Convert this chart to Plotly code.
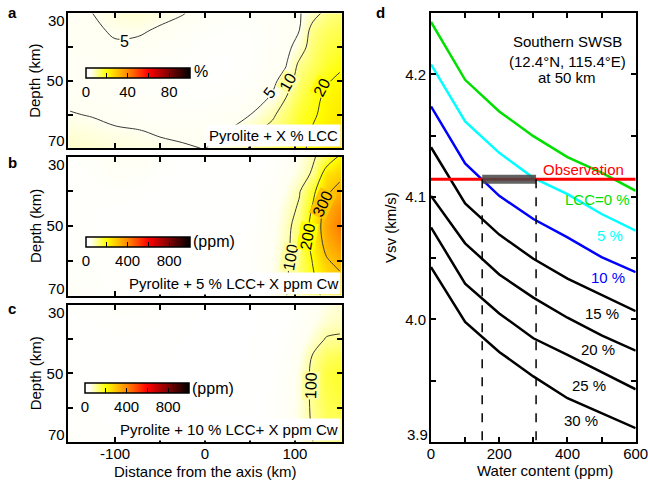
import plotly.graph_objects as go

# ---------------- data ----------------
dist_km = [-150, -125, -100, -75, -50, -25, 0, 25, 50, 75, 90, 105, 120, 135, 150]
depth_km = [30, 35, 40, 45, 50, 55, 60, 65, 70]
depth_ticks = [30, 40, 50, 60, 70]
depth_ticktext = ["30", "", "50", "", "70"]

# Panel a: Pyrolite + X % LCC  (percent)
lcc_pct = [
    [4.5, 5.0, 6.5, 7.0, 6.0, 5.2, 3.5, 2.5, 2.5, 3.0, 3.8, 4.6, 8.0, 11.5, 13.0],
    [4.2, 4.6, 5.3, 5.5, 4.6, 3.5, 2.2, 1.6, 1.8, 2.8, 3.8, 5.0, 12.0, 14.0, 15.0],
    [4.0, 4.2, 4.7, 4.2, 3.2, 2.2, 1.2, 1.0, 1.5, 3.0, 3.6, 7.0, 13.0, 15.5, 17.0],
    [3.8, 3.8, 3.8, 3.0, 2.2, 1.5, 0.8, 0.8, 1.5, 3.5, 4.7, 11.0, 14.0, 17.0, 19.0],
    [3.8, 3.5, 3.2, 2.5, 1.8, 1.2, 0.8, 1.0, 2.0, 4.2, 6.5, 13.0, 16.5, 19.5, 21.0],
    [4.2, 3.8, 3.3, 2.8, 2.2, 1.8, 1.6, 2.0, 3.2, 5.4, 10.0, 15.0, 18.5, 21.0, 22.5],
    [5.2, 4.8, 4.0, 3.5, 3.0, 2.8, 3.0, 3.8, 4.9, 9.0, 13.0, 17.0, 19.3, 21.5, 23.5],
    [6.5, 6.0, 5.5, 5.2, 4.6, 4.2, 4.4, 5.1, 8.5, 12.0, 15.0, 18.0, 20.5, 23.0, 25.0],
    [7.5, 7.0, 6.5, 6.2, 5.8, 5.4, 4.9, 7.0, 10.3, 13.5, 16.0, 19.0, 21.0, 24.0, 26.5],
]

# Panel b: Pyrolite + 5 % LCC + X ppm Cw
cw_lcc5 = [
    [15, 25, 45, 40, 20, 8, 3, 2, 3, 10, 30, 55, 90, 140, 210],
    [12, 18, 30, 28, 12, 5, 2, 2, 4, 15, 40, 65, 110, 240, 275],
    [10, 12, 15, 12, 6, 3, 2, 3, 6, 25, 55, 95, 180, 285, 330],
    [10, 10, 8, 5, 3, 2, 2, 3, 8, 35, 70, 110, 210, 330, 390],
    [12, 10, 6, 4, 3, 2, 2, 3, 10, 40, 80, 130, 230, 350, 420],
    [14, 12, 8, 5, 3, 2, 2, 4, 12, 45, 85, 135, 225, 330, 380],
    [18, 15, 10, 6, 4, 3, 3, 5, 15, 50, 90, 130, 205, 290, 330],
    [25, 20, 12, 8, 5, 4, 4, 7, 18, 55, 95, 130, 190, 250, 280],
    [30, 25, 15, 10, 6, 5, 5, 8, 20, 58, 98, 128, 175, 220, 250],
]

# Panel c: Pyrolite + 10 % LCC + X ppm Cw
cw_lcc10 = [
    [10, 15, 22, 22, 12, 5, 2, 1, 1, 3, 8, 20, 40, 58, 70],
    [8, 10, 14, 14, 8, 3, 1, 1, 1, 4, 10, 25, 50, 70, 82],
    [7, 7, 8, 7, 4, 2, 1, 1, 2, 6, 15, 35, 70, 105, 108],
    [7, 6, 5, 4, 2, 1, 1, 1, 2, 8, 22, 50, 105, 140, 150],
    [8, 6, 4, 3, 2, 1, 1, 1, 3, 10, 28, 60, 115, 160, 172],
    [10, 8, 5, 3, 2, 1, 1, 2, 4, 12, 30, 62, 115, 155, 168],
    [12, 10, 6, 4, 2, 2, 2, 2, 5, 13, 32, 62, 112, 148, 155],
    [16, 12, 8, 5, 3, 2, 2, 3, 6, 14, 32, 62, 108, 140, 145],
    [20, 15, 10, 6, 4, 3, 3, 3, 6, 15, 32, 60, 100, 130, 135],
]

# contour levels and their label positions (distance, depth, angle)
levels_a = [5, 10, 20]
labels_a = [(5, -89, 38.5, 0), (5, 72, 53.5, -52), (10, 92, 50.5, -60), (20, 130, 52, -62)]
levels_b = [100, 200, 300]
labels_b = [(100, 95, 59, -80), (200, 114, 53, -80), (300, 131, 43.5, -65)]
levels_c = [100]
labels_c = [(100, 117.5, 53.5, -88)]

# Panel d: Vsv vs water content for LCC fractions
water_ppm = [0, 100, 200, 300, 400, 500, 600]
vsv_lcc0 = [4.2427, 4.1955, 4.1697, 4.1495, 4.1324, 4.1197, 4.1049]
vsv_lcc5 = [4.2081, 4.1616, 4.1359, 4.1155, 4.1022, 4.0860, 4.0724]
vsv_lcc10 = [4.1738, 4.1273, 4.1008, 4.0819, 4.0670, 4.0508, 4.0386]
vsv_lcc15 = [4.1405, 4.0946, 4.0692, 4.0495, 4.0333, 4.0197, 4.0067]
vsv_lcc20 = [4.1008, 4.0621, 4.0367, 4.0178, 4.0014, 3.9870, 3.9745]
vsv_lcc25 = [4.0751, 4.0292, 4.0049, 3.9846, 3.9710, 3.9570, 3.9430]
vsv_lcc30 = [4.0427, 3.9980, 3.9735, 3.9535, 3.9357, 3.9235, 3.9113]
curve_labels = ["LCC=0 %", "5 %", "10 %", "15 %", "20 %", "25 %", "30 %"]
curve_colors = ["#00e000", "#00ffff", "#0000ff", "black", "black", "black", "black"]
label_x = [489, 525, 519, 500, 489, 463, 440]
label_y = [4.0981, 4.0684, 4.0346, 4.0049, 3.9751, 3.9459, 3.9178]
vsv_ticks = [3.9, 3.95, 4.0, 4.05, 4.1, 4.15, 4.2, 4.25]
vsv_ticktext = ["3.9", "", "4.0", "", "4.1", "", "4.2", ""]
obs_vsv = 4.1144
water_range = [150, 308]

FONT = "Liberation Sans, Arial, Helvetica, sans-serif"
W, H = 648, 480


def px(x):
    return x / W


def py(y):
    return 1 - y / H


hot = [[0, "#ffffff"], [0.05, "#fffff2"], [0.1, "#ffffa0"], [0.2, "#ffff00"],
       [0.4, "#ff8800"], [0.6, "#ff0000"], [0.8, "#800000"], [1, "#000000"]]


def scale_color(f):
    for (f0, c0), (f1, c1) in zip(hot[:-1], hot[1:]):
        if f0 <= f <= f1:
            t = (f - f0) / (f1 - f0)
            a = [int(c0[i:i + 2], 16) for i in (1, 3, 5)]
            b = [int(c1[i:i + 2], 16) for i in (1, 3, 5)]
            return "rgb(%d,%d,%d)" % tuple(round(a[k] + t * (b[k] - a[k])) for k in range(3))
    return hot[-1][1]


fig = go.Figure()

heat_sets = [
    (lcc_pct, "x", "y", "coloraxis", levels_a),
    (cw_lcc5, "x2", "y2", "coloraxis2", levels_b),
    (cw_lcc10, "x3", "y3", "coloraxis3", levels_c),
]
for z, xa, ya, ca, levels in heat_sets:
    fig.add_trace(go.Heatmap(x=dist_km, y=depth_km, z=z, zsmooth="best",
                             coloraxis=ca, xaxis=xa, yaxis=ya, hoverinfo="skip"))
    for lv in levels:
        fig.add_trace(go.Contour(
            x=dist_km, y=depth_km, z=z, xaxis=xa, yaxis=ya, showscale=False,
            contours=dict(coloring="none", start=lv, end=lv, size=1, showlabels=False),
            line=dict(color="#3a3a3a", width=1, smoothing=1.0), hoverinfo="skip"))

# Panel d curves
curves = [vsv_lcc0, vsv_lcc5, vsv_lcc10, vsv_lcc15, vsv_lcc20, vsv_lcc25, vsv_lcc30]
for v, c in zip(curves, curve_colors):
    fig.add_trace(go.Scatter(x=water_ppm, y=v, mode="lines", line=dict(color=c, width=2.5),
                             xaxis="x4", yaxis="y4", showlegend=False))
fig.add_trace(go.Scatter(x=[0, 600], y=[obs_vsv, obs_vsv], mode="lines",
                         line=dict(color="#ff0000", width=3), xaxis="x4", yaxis="y4"))
fig.add_trace(go.Scatter(x=water_range, y=[obs_vsv, obs_vsv], mode="lines",
                         line=dict(color="rgba(70,70,70,0.85)", width=9),
                         xaxis="x4", yaxis="y4"))
for wx in water_range:
    fig.add_trace(go.Scatter(x=[wx, wx], y=[obs_vsv, 3.9], mode="lines",
                             line=dict(color="black", width=1.5, dash="dash"),
                             xaxis="x4", yaxis="y4"))

# Axes
xdom = [px(68.3), px(341.7)]
ydoms = [[py(148.3), py(13.3)], [py(295.5), py(156.5)], [py(441.7), py(305)]]
common = dict(showline=True, linewidth=2, linecolor="black", mirror="ticks",
              ticks="inside", ticklen=5, tickwidth=1.5, tickcolor="black",
              showgrid=False, zeroline=False, automargin=False, ticklabeloverflow="allow",
              tickfont=dict(size=15, family=FONT, color="black"))
lay = {}
# the end labels of the y axes are drawn as annotations kept inside the frame
inner_depth_text = [t if v not in (depth_ticks[0], depth_ticks[-1]) else ""
                    for v, t in zip(depth_ticks, depth_ticktext)]
for i, yd in enumerate(ydoms):
    sfx = "" if i == 0 else str(i + 1)
    lay["xaxis" + sfx] = dict(common, domain=xdom, range=[-152, 152], anchor="y" + sfx,
                              tickvals=[-100, -50, 0, 50, 100],
                              ticktext=["-100", "", "0", "", "100"],
                              showticklabels=(i == 2), ticklabelstandoff=-3)
    lay["yaxis" + sfx] = dict(common, domain=yd, range=[70, 30], anchor="x" + sfx,
                              tickvals=depth_ticks, ticktext=inner_depth_text)
lay["xaxis4"] = dict(common, domain=[px(431), px(635.7)], range=[0, 600], anchor="y4",
                     tickvals=[0, 100, 200, 300, 400, 500, 600],
                     ticktext=["0", "", "200", "", "400", "", "600"], ticklabelstandoff=-3)
lay["yaxis4"] = dict(common, domain=[py(442), py(13)], range=[3.9, 4.25], anchor="x4",
                     tickvals=vsv_ticks, ticktext=[""] + vsv_ticktext[1:])


def cbar(x0, ytop, tv, tt):
    return dict(orientation="h", x=px(x0), xanchor="left", y=py(ytop), yanchor="top",
                len=104, lenmode="pixels", thickness=10, thicknessmode="pixels",
                outlinewidth=1.5, outlinecolor="black", xpad=0, ypad=0,
                tickvals=tv, ticktext=tt, ticks="inside", ticklen=5, tickcolor="black",
                tickfont=dict(size=15, family=FONT, color="black"))


lay["coloraxis"] = dict(colorscale=hot, cmin=0, cmax=100,
                        colorbar=cbar(86, 67.7, [0, 20, 40, 60, 80], ["0", "", "40", "", "80"]))
lay["coloraxis2"] = dict(colorscale=hot, cmin=0, cmax=1000,
                         colorbar=cbar(86, 237.3, [0, 200, 400, 600, 800], ["0", "", "400", "", "800"]))
lay["coloraxis3"] = dict(colorscale=hot, cmin=0, cmax=1000,
                         colorbar=cbar(85, 383.3, [0, 200, 400, 600, 800], ["0", "", "400", "", "800"]))

ann = []


def txt(x, y, s, size=15, color="black", xref="paper", yref="paper", **kw):
    d = dict(x=x, y=y, text=s, showarrow=False, xref=xref, yref=yref,
             xanchor="center", yanchor="middle",
             font=dict(size=size, family=FONT, color=color))
    d.update(kw)
    ann.append(d)


# end tick labels of the depth axes (kept inside the frame like the original)
for sfx in ["", "2", "3"]:
    txt(0, depth_ticks[0], depth_ticktext[0], xref="x%s domain" % sfx, yref="y" + sfx,
        xanchor="right", yanchor="top", xshift=-1, yshift=3)
    txt(0, depth_ticks[-1], depth_ticktext[-1], xref="x%s domain" % sfx, yref="y" + sfx,
        xanchor="right", yanchor="bottom", xshift=-1, yshift=-3)
txt(0, vsv_ticks[0], vsv_ticktext[0], xref="x4 domain", yref="y4",
    xanchor="right", yanchor="bottom", xshift=-1, yshift=-3)

# contour labels
for labs, xa, ya, cmax in [(labels_a, "x", "y", 100), (labels_b, "x2", "y2", 1000),
                           (labels_c, "x3", "y3", 1000)]:
    for lv, lx, ly, ang in labs:
        txt(lx, ly, str(lv), size=16, xref=xa, yref=ya, textangle=ang,
            bgcolor=scale_color(lv / cmax), borderpad=0)

# panel letters
for L, (lx, ly) in zip("abcd", [(12, 12), (12, 162), (12, 308), (380, 12)]):
    txt(px(lx), py(ly), "<b>%s</b>" % L, size=15)
# axis titles
for yc in [(13.3 + 148.3) / 2, (156.5 + 295.5) / 2, (305 + 441.7) / 2]:
    txt(px(35), py(yc), "Depth (km)", textangle=-90)
txt(px(205), py(471), "Distance from the axis (km)")
txt(px(545), py(470), "Water content (ppm)")
txt(px(390), py(228), "Vsv (km/s)", textangle=-90)
# units
txt(px(192), py(71), "%", xanchor="left", size=16)
txt(px(191), py(241.5), "(ppm)", xanchor="left", size=16)
txt(px(190), py(388), "(ppm)", xanchor="left", size=16)
# boxed labels
for s, xa in [("Pyrolite + X % LCC", "x"), ("Pyrolite + 5 % LCC+ X ppm Cw", "x2"),
              ("Pyrolite + 10 % LCC+ X ppm Cw", "x3")]:
    ya = "y" + xa[1:]
    txt(1, 0, s, xref=xa + " domain", yref=ya + " domain", xanchor="right",
        yanchor="bottom", bgcolor="white", borderpad=2, xshift=-1, yshift=1)
# panel d text
txt(px(567), py(41), "Southern SWSB")
txt(px(567), py(61), "(12.4°N, 115.4°E)")
txt(px(567), py(78), "at 50 km")
txt(448, 4.1225, "Observation", color="#ff0000", xref="x4", yref="y4")
for s, c, lx, ly in zip(curve_labels, curve_colors, label_x, label_y):
    txt(lx, ly, s, color=c, xref="x4", yref="y4")

lay["annotations"] = ann
fig.update_layout(**lay)
fig.update_layout(width=W, height=H, margin=dict(l=0, r=0, t=0, b=0, autoexpand=False),
                  plot_bgcolor="white", paper_bgcolor="white", showlegend=False,
                  font=dict(family=FONT, color="black"))
fig.write_html("out.html", config={"displayModeBar": False},
               post_script="document.body.style.margin='0';document.body.style.overflow='hidden';")
